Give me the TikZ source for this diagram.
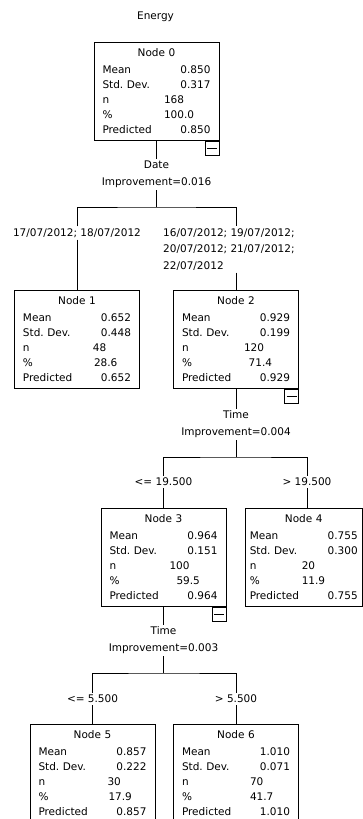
\documentclass[tikz,border=0pt]{standalone}
\usepackage{fontspec}
\setmainfont{DejaVu Sans}

\begin{document}
\begin{tikzpicture}[x=1pt, y=-1pt,
  stat/.style={rectangle, draw, line width=0.8pt, text width=108pt,
               inner xsep=8.5pt, inner ysep=0pt, minimum height=98.5pt,
               align=left, font=\fontsize{10.5}{15}\selectfont},
  toggle/.style={rectangle, draw, line width=0.8pt, minimum size=14pt,
                 inner sep=0pt, anchor=north east},
  split/.style={align=center, inner sep=2pt, font=\fontsize{10.5}{17}\selectfont},
  cut/.style={align=left, inner sep=2pt, font=\fontsize{10.5}{16.5}\selectfont},
  edge/.style={draw, line width=0.8pt},
]
\useasboundingbox (0,0) rectangle (363,819);
% ---- target variable
\node[split] (target) at (155.5,17) {Energy};
% ---- root: split on Date
\node[stat] (node0) at (156.5,91.25) {\makebox[\linewidth]{Node 0}\\[1.6pt]
  Mean\hfill 0.850\\ Std.\ Dev.\hfill 0.317\\
  \makebox[61.5pt][l]{n}168\\ \makebox[61.5pt][l]{\%}100.0\\ Predicted\hfill 0.850};
\node[toggle] (toggle0) at (node0.south east) {\rule{10pt}{0.9pt}};
\node[split] (split0) at (156.5,174.5) {Date\\Improvement=0.016};
\coordinate (bar0) at (156.5,207);
\node[cut] (cut1) at (77,233) {17/07/2012; 18/07/2012};
\node[cut, anchor=west] (cut2) at (161,249.5) {16/07/2012; 19/07/2012;\\20/07/2012; 21/07/2012;\\22/07/2012};
\node[stat] (node1) at (77,339.25) {\makebox[\linewidth]{Node 1}\\[1.6pt]
  Mean\hfill 0.652\\ Std.\ Dev.\hfill 0.448\\
  \makebox[70pt][l]{n}48\\ \makebox[71pt][l]{\%}28.6\\ Predicted\hfill 0.652};
\node[stat] (node2) at (236,339.25) {\makebox[\linewidth]{Node 2}\\[1.6pt]
  Mean\hfill 0.929\\ Std.\ Dev.\hfill 0.199\\
  \makebox[62pt][l]{n}120\\ \makebox[66.7pt][l]{\%}71.4\\ Predicted\hfill 0.929};
\draw[edge] (node0.south) -- (split0.north);
\draw[edge] (split0.south) -- (bar0);
\draw[edge] (cut1.north) |- (bar0) -| (node2.north |- cut2.north);
\draw[edge] (cut1.south) -- (node1.north);
\draw[edge] (node2.north |- cut2.south) -- (node2.north);
% ---- node 2: split on Time
\node[toggle] (toggle2) at (node2.south east) {\rule{10pt}{0.9pt}};
\node[split] (split2) at (236,424.5) {Time\\Improvement=0.004};
\coordinate (bar2) at (236,457);
\node[split] (cut3) at (163.5,482) {<= 19.500};
\node[split] (cut4) at (307,482) {> 19.500};
\node[stat] (node3) at (163.5,557.25) {\makebox[\linewidth]{Node 3}\\[1.6pt]
  Mean\hfill 0.964\\ Std.\ Dev.\hfill 0.151\\
  \makebox[60pt][l]{n}100\\ \makebox[67pt][l]{\%}59.5\\ Predicted\hfill 0.964};
\node[stat, inner xsep=4.75pt] (node4) at (303.75,557.25) {\makebox[\linewidth]{Node 4}\\[1.6pt]
  Mean\hfill 0.755\\ Std.\ Dev.\hfill 0.300\\
  \makebox[52pt][l]{n}20\\ \makebox[52pt][l]{\%}11.9\\ Predicted\hfill 0.755};
\draw[edge] (node2.south) -- (split2.north);
\draw[edge] (split2.south) -- (bar2);
\draw[edge] (cut3.north) |- (bar2) -| (cut4.north);
\draw[edge] (cut3.south) -- (node3.north);
\draw[edge] (cut4.south) -- (cut4.south |- node4.north);
% ---- node 3: split on Time again
\node[toggle] (toggle3) at (node3.south east) {\rule{10pt}{0.9pt}};
\node[split] (split3) at (163.5,640.5) {Time\\Improvement=0.003};
\coordinate (bar3) at (163.5,673);
\node[split] (cut5) at (92.5,699) {<= 5.500};
\node[split] (cut6) at (236,699) {> 5.500};
\node[stat] (node5) at (92.5,773.25) {\makebox[\linewidth]{Node 5}\\[1.6pt]
  Mean\hfill 0.857\\ Std.\ Dev.\hfill 0.222\\
  \makebox[69pt][l]{n}30\\ \makebox[70pt][l]{\%}17.9\\ Predicted\hfill 0.857};
\node[stat] (node6) at (236,773.25) {\makebox[\linewidth]{Node 6}\\[1.6pt]
  Mean\hfill 1.010\\ Std.\ Dev.\hfill 0.071\\
  \makebox[68pt][l]{n}70\\ \makebox[68pt][l]{\%}41.7\\ Predicted\hfill 1.010};
\draw[edge] (node3.south) -- (split3.north);
\draw[edge] (split3.south) -- (bar3);
\draw[edge] (cut5.north) |- (bar3) -| (cut6.north);
\draw[edge] (cut5.south) -- (node5.north);
\draw[edge] (cut6.south) -- (node6.north);
\end{tikzpicture}
\end{document}
